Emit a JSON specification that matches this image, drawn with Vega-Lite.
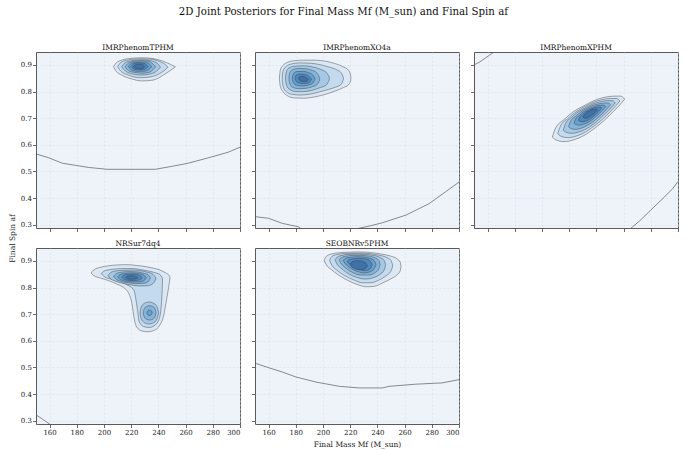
{
  "$schema": "https://vega.github.io/schema/vega-lite/v6.json",
  "padding": {"left": 7, "top": 6, "right": 5, "bottom": 1},
  "background": "white",
  "title": {"text": "2D Joint Posteriors for Final Mass Mf (M_sun) and Final Spin af", "fontSize": 10.2, "font": "DejaVu Serif", "fontWeight": "normal", "anchor": "middle", "offset": 26, "color": "#111"},
  "bounds": "flush",
  "columns": 3,
  "spacing": {"row": 20, "column": 15},
  "config": {
    "font": "DejaVu Serif",
    "view": {"fill": "#eef3fa", "stroke": "#5a5a5a", "strokeWidth": 1},
    "axis": {"labelFont": "DejaVu Serif", "labelFontSize": 7, "labelColor": "#222", "tickColor": "#444", "tickSize": 3.5, "tickWidth": 0.8, "domain": false, "grid": true, "gridColor": "#d3d9e3", "gridDash": [2, 2], "gridWidth": 0.5, "titleFont": "DejaVu Serif", "titleFontSize": 7.5, "titleFontWeight": "normal", "titleColor": "#222", "labelPadding": 1},
    "title": {"font": "DejaVu Serif", "fontWeight": "normal", "fontSize": 7.5, "color": "#111", "offset": 1}
  },
  "datasets": {
    "contours": [
      {"model":"IMRPhenomTPHM","ring":"T1","level":1,"mf":207,"af":0.893,"af_hi":0.893},
      {"model":"IMRPhenomTPHM","ring":"T1","level":1,"mf":209,"af":0.876,"af_hi":0.908},
      {"model":"IMRPhenomTPHM","ring":"T1","level":1,"mf":213,"af":0.862,"af_hi":0.918},
      {"model":"IMRPhenomTPHM","ring":"T1","level":1,"mf":220,"af":0.848,"af_hi":0.925},
      {"model":"IMRPhenomTPHM","ring":"T1","level":1,"mf":228,"af":0.840,"af_hi":0.927},
      {"model":"IMRPhenomTPHM","ring":"T1","level":1,"mf":236,"af":0.843,"af_hi":0.924},
      {"model":"IMRPhenomTPHM","ring":"T1","level":1,"mf":243,"af":0.860,"af_hi":0.915},
      {"model":"IMRPhenomTPHM","ring":"T1","level":1,"mf":249,"af":0.880,"af_hi":0.902},
      {"model":"IMRPhenomTPHM","ring":"T1","level":1,"mf":252.5,"af":0.893,"af_hi":0.893},
      {"model":"IMRPhenomTPHM","ring":"T2","level":2,"mf":210,"af":0.893,"af_hi":0.893},
      {"model":"IMRPhenomTPHM","ring":"T2","level":2,"mf":212.5,"af":0.876,"af_hi":0.910},
      {"model":"IMRPhenomTPHM","ring":"T2","level":2,"mf":218,"af":0.862,"af_hi":0.919},
      {"model":"IMRPhenomTPHM","ring":"T2","level":2,"mf":226,"af":0.852,"af_hi":0.923},
      {"model":"IMRPhenomTPHM","ring":"T2","level":2,"mf":234,"af":0.855,"af_hi":0.922},
      {"model":"IMRPhenomTPHM","ring":"T2","level":2,"mf":241,"af":0.868,"af_hi":0.913},
      {"model":"IMRPhenomTPHM","ring":"T2","level":2,"mf":245,"af":0.882,"af_hi":0.902},
      {"model":"IMRPhenomTPHM","ring":"T2","level":2,"mf":247,"af":0.892,"af_hi":0.892},
      {"model":"IMRPhenomTPHM","ring":"T3","level":3,"mf":213,"af":0.893,"af_hi":0.893},
      {"model":"IMRPhenomTPHM","ring":"T3","level":3,"mf":215.5,"af":0.878,"af_hi":0.908},
      {"model":"IMRPhenomTPHM","ring":"T3","level":3,"mf":220.5,"af":0.867,"af_hi":0.916},
      {"model":"IMRPhenomTPHM","ring":"T3","level":3,"mf":227,"af":0.862,"af_hi":0.919},
      {"model":"IMRPhenomTPHM","ring":"T3","level":3,"mf":233,"af":0.865,"af_hi":0.917},
      {"model":"IMRPhenomTPHM","ring":"T3","level":3,"mf":238.5,"af":0.876,"af_hi":0.909},
      {"model":"IMRPhenomTPHM","ring":"T3","level":3,"mf":241.5,"af":0.892,"af_hi":0.892},
      {"model":"IMRPhenomTPHM","ring":"T4","level":4,"mf":215.5,"af":0.893,"af_hi":0.893},
      {"model":"IMRPhenomTPHM","ring":"T4","level":4,"mf":218,"af":0.879,"af_hi":0.907},
      {"model":"IMRPhenomTPHM","ring":"T4","level":4,"mf":222.5,"af":0.872,"af_hi":0.914},
      {"model":"IMRPhenomTPHM","ring":"T4","level":4,"mf":228,"af":0.869,"af_hi":0.916},
      {"model":"IMRPhenomTPHM","ring":"T4","level":4,"mf":233,"af":0.872,"af_hi":0.913},
      {"model":"IMRPhenomTPHM","ring":"T4","level":4,"mf":236,"af":0.882,"af_hi":0.904},
      {"model":"IMRPhenomTPHM","ring":"T4","level":4,"mf":238,"af":0.893,"af_hi":0.893},
      {"model":"IMRPhenomTPHM","ring":"T5","level":5,"mf":218,"af":0.894,"af_hi":0.894},
      {"model":"IMRPhenomTPHM","ring":"T5","level":5,"mf":220,"af":0.882,"af_hi":0.906},
      {"model":"IMRPhenomTPHM","ring":"T5","level":5,"mf":224.5,"af":0.876,"af_hi":0.911},
      {"model":"IMRPhenomTPHM","ring":"T5","level":5,"mf":229,"af":0.876,"af_hi":0.911},
      {"model":"IMRPhenomTPHM","ring":"T5","level":5,"mf":233,"af":0.883,"af_hi":0.905},
      {"model":"IMRPhenomTPHM","ring":"T5","level":5,"mf":235,"af":0.894,"af_hi":0.894},
      {"model":"IMRPhenomTPHM","ring":"T6","level":6,"mf":220,"af":0.894,"af_hi":0.894},
      {"model":"IMRPhenomTPHM","ring":"T6","level":6,"mf":221.7,"af":0.885,"af_hi":0.904},
      {"model":"IMRPhenomTPHM","ring":"T6","level":6,"mf":225.5,"af":0.881,"af_hi":0.908},
      {"model":"IMRPhenomTPHM","ring":"T6","level":6,"mf":229.5,"af":0.883,"af_hi":0.906},
      {"model":"IMRPhenomTPHM","ring":"T6","level":6,"mf":232.5,"af":0.894,"af_hi":0.894},
      {"model":"IMRPhenomTPHM","ring":"T7","level":7,"mf":221.5,"af":0.894,"af_hi":0.894},
      {"model":"IMRPhenomTPHM","ring":"T7","level":7,"mf":223,"af":0.888,"af_hi":0.900},
      {"model":"IMRPhenomTPHM","ring":"T7","level":7,"mf":226,"af":0.885,"af_hi":0.903},
      {"model":"IMRPhenomTPHM","ring":"T7","level":7,"mf":228.5,"af":0.887,"af_hi":0.901},
      {"model":"IMRPhenomTPHM","ring":"T7","level":7,"mf":230,"af":0.894,"af_hi":0.894},

      {"model":"IMRPhenomXO4a","ring":"X1","level":1,"mf":168.0,"af":0.845,"af_hi":0.855},
      {"model":"IMRPhenomXO4a","ring":"X1","level":1,"mf":168.6,"af":0.820,"af_hi":0.880},
      {"model":"IMRPhenomXO4a","ring":"X1","level":1,"mf":170.5,"af":0.800,"af_hi":0.898},
      {"model":"IMRPhenomXO4a","ring":"X1","level":1,"mf":174,"af":0.784,"af_hi":0.910},
      {"model":"IMRPhenomXO4a","ring":"X1","level":1,"mf":179,"af":0.776,"af_hi":0.916},
      {"model":"IMRPhenomXO4a","ring":"X1","level":1,"mf":186,"af":0.775,"af_hi":0.918},
      {"model":"IMRPhenomXO4a","ring":"X1","level":1,"mf":194,"af":0.780,"af_hi":0.918},
      {"model":"IMRPhenomXO4a","ring":"X1","level":1,"mf":202,"af":0.790,"af_hi":0.914},
      {"model":"IMRPhenomXO4a","ring":"X1","level":1,"mf":209,"af":0.802,"af_hi":0.905},
      {"model":"IMRPhenomXO4a","ring":"X1","level":1,"mf":215,"af":0.815,"af_hi":0.893},
      {"model":"IMRPhenomXO4a","ring":"X1","level":1,"mf":218.8,"af":0.826,"af_hi":0.880},
      {"model":"IMRPhenomXO4a","ring":"X1","level":1,"mf":220.3,"af":0.840,"af_hi":0.862},
      {"model":"IMRPhenomXO4a","ring":"X1","level":1,"mf":220.5,"af":0.851,"af_hi":0.851},
      {"model":"IMRPhenomXO4a","ring":"X2","level":2,"mf":170.0,"af":0.840,"af_hi":0.858},
      {"model":"IMRPhenomXO4a","ring":"X2","level":2,"mf":170.8,"af":0.817,"af_hi":0.880},
      {"model":"IMRPhenomXO4a","ring":"X2","level":2,"mf":173,"af":0.800,"af_hi":0.895},
      {"model":"IMRPhenomXO4a","ring":"X2","level":2,"mf":177,"af":0.790,"af_hi":0.904},
      {"model":"IMRPhenomXO4a","ring":"X2","level":2,"mf":183,"af":0.787,"af_hi":0.908},
      {"model":"IMRPhenomXO4a","ring":"X2","level":2,"mf":190,"af":0.790,"af_hi":0.907},
      {"model":"IMRPhenomXO4a","ring":"X2","level":2,"mf":197,"af":0.798,"af_hi":0.902},
      {"model":"IMRPhenomXO4a","ring":"X2","level":2,"mf":204,"af":0.808,"af_hi":0.893},
      {"model":"IMRPhenomXO4a","ring":"X2","level":2,"mf":210,"af":0.818,"af_hi":0.882},
      {"model":"IMRPhenomXO4a","ring":"X2","level":2,"mf":213.5,"af":0.828,"af_hi":0.870},
      {"model":"IMRPhenomXO4a","ring":"X2","level":2,"mf":215,"af":0.846,"af_hi":0.852},
      {"model":"IMRPhenomXO4a","ring":"X3","level":3,"mf":172.5,"af":0.842,"af_hi":0.858},
      {"model":"IMRPhenomXO4a","ring":"X3","level":3,"mf":173.3,"af":0.822,"af_hi":0.878},
      {"model":"IMRPhenomXO4a","ring":"X3","level":3,"mf":175.5,"af":0.808,"af_hi":0.890},
      {"model":"IMRPhenomXO4a","ring":"X3","level":3,"mf":180,"af":0.800,"af_hi":0.896},
      {"model":"IMRPhenomXO4a","ring":"X3","level":3,"mf":186,"af":0.800,"af_hi":0.897},
      {"model":"IMRPhenomXO4a","ring":"X3","level":3,"mf":192,"af":0.805,"af_hi":0.893},
      {"model":"IMRPhenomXO4a","ring":"X3","level":3,"mf":198,"af":0.815,"af_hi":0.884},
      {"model":"IMRPhenomXO4a","ring":"X3","level":3,"mf":202.5,"af":0.825,"af_hi":0.872},
      {"model":"IMRPhenomXO4a","ring":"X3","level":3,"mf":204.6,"af":0.845,"af_hi":0.855},
      {"model":"IMRPhenomXO4a","ring":"X4","level":4,"mf":175,"af":0.842,"af_hi":0.858},
      {"model":"IMRPhenomXO4a","ring":"X4","level":4,"mf":175.8,"af":0.826,"af_hi":0.873},
      {"model":"IMRPhenomXO4a","ring":"X4","level":4,"mf":178,"af":0.815,"af_hi":0.883},
      {"model":"IMRPhenomXO4a","ring":"X4","level":4,"mf":182,"af":0.811,"af_hi":0.887},
      {"model":"IMRPhenomXO4a","ring":"X4","level":4,"mf":187,"af":0.812,"af_hi":0.886},
      {"model":"IMRPhenomXO4a","ring":"X4","level":4,"mf":192,"af":0.818,"af_hi":0.880},
      {"model":"IMRPhenomXO4a","ring":"X4","level":4,"mf":195.5,"af":0.826,"af_hi":0.870},
      {"model":"IMRPhenomXO4a","ring":"X4","level":4,"mf":197.5,"af":0.842,"af_hi":0.852},
      {"model":"IMRPhenomXO4a","ring":"X5","level":5,"mf":177.5,"af":0.845,"af_hi":0.855},
      {"model":"IMRPhenomXO4a","ring":"X5","level":5,"mf":178.3,"af":0.832,"af_hi":0.868},
      {"model":"IMRPhenomXO4a","ring":"X5","level":5,"mf":180.5,"af":0.824,"af_hi":0.875},
      {"model":"IMRPhenomXO4a","ring":"X5","level":5,"mf":185,"af":0.821,"af_hi":0.876},
      {"model":"IMRPhenomXO4a","ring":"X5","level":5,"mf":189.5,"af":0.825,"af_hi":0.871},
      {"model":"IMRPhenomXO4a","ring":"X5","level":5,"mf":192.5,"af":0.832,"af_hi":0.862},
      {"model":"IMRPhenomXO4a","ring":"X5","level":5,"mf":194,"af":0.845,"af_hi":0.850},
      {"model":"IMRPhenomXO4a","ring":"X6","level":6,"mf":179.5,"af":0.848,"af_hi":0.852},
      {"model":"IMRPhenomXO4a","ring":"X6","level":6,"mf":180.3,"af":0.838,"af_hi":0.862},
      {"model":"IMRPhenomXO4a","ring":"X6","level":6,"mf":182.5,"af":0.832,"af_hi":0.866},
      {"model":"IMRPhenomXO4a","ring":"X6","level":6,"mf":186,"af":0.830,"af_hi":0.865},
      {"model":"IMRPhenomXO4a","ring":"X6","level":6,"mf":189.5,"af":0.833,"af_hi":0.858},
      {"model":"IMRPhenomXO4a","ring":"X6","level":6,"mf":191.5,"af":0.845,"af_hi":0.848},
      {"model":"IMRPhenomXO4a","ring":"X7","level":7,"mf":182,"af":0.850,"af_hi":0.850},
      {"model":"IMRPhenomXO4a","ring":"X7","level":7,"mf":182.8,"af":0.843,"af_hi":0.856},
      {"model":"IMRPhenomXO4a","ring":"X7","level":7,"mf":185,"af":0.838,"af_hi":0.858},
      {"model":"IMRPhenomXO4a","ring":"X7","level":7,"mf":187.5,"af":0.838,"af_hi":0.853},
      {"model":"IMRPhenomXO4a","ring":"X7","level":7,"mf":189.5,"af":0.845,"af_hi":0.845},

      {"model":"IMRPhenomXPHM","ring":"P1","level":1,"mf":207.6,"af":0.629,"af_hi":0.629},
      {"model":"IMRPhenomXPHM","ring":"P1","level":1,"mf":210.0,"af":0.619,"af_hi":0.663},
      {"model":"IMRPhenomXPHM","ring":"P1","level":1,"mf":216.2,"af":0.612,"af_hi":0.695},
      {"model":"IMRPhenomXPHM","ring":"P1","level":1,"mf":223.5,"af":0.619,"af_hi":0.726},
      {"model":"IMRPhenomXPHM","ring":"P1","level":1,"mf":230.9,"af":0.635,"af_hi":0.747},
      {"model":"IMRPhenomXPHM","ring":"P1","level":1,"mf":238.2,"af":0.660,"af_hi":0.766},
      {"model":"IMRPhenomXPHM","ring":"P1","level":1,"mf":245.6,"af":0.691,"af_hi":0.778},
      {"model":"IMRPhenomXPHM","ring":"P1","level":1,"mf":253.0,"af":0.728,"af_hi":0.783},
      {"model":"IMRPhenomXPHM","ring":"P1","level":1,"mf":257.8,"af":0.753,"af_hi":0.783},
      {"model":"IMRPhenomXPHM","ring":"P1","level":1,"mf":260.8,"af":0.772,"af_hi":0.772},
      {"model":"IMRPhenomXPHM","ring":"P2","level":2,"mf":211.6,"af":0.642,"af_hi":0.642},
      {"model":"IMRPhenomXPHM","ring":"P2","level":2,"mf":213.6,"af":0.633,"af_hi":0.671},
      {"model":"IMRPhenomXPHM","ring":"P2","level":2,"mf":219.0,"af":0.627,"af_hi":0.699},
      {"model":"IMRPhenomXPHM","ring":"P2","level":2,"mf":225.3,"af":0.633,"af_hi":0.725},
      {"model":"IMRPhenomXPHM","ring":"P2","level":2,"mf":231.6,"af":0.647,"af_hi":0.744},
      {"model":"IMRPhenomXPHM","ring":"P2","level":2,"mf":237.9,"af":0.669,"af_hi":0.760},
      {"model":"IMRPhenomXPHM","ring":"P2","level":2,"mf":244.3,"af":0.695,"af_hi":0.770},
      {"model":"IMRPhenomXPHM","ring":"P2","level":2,"mf":250.6,"af":0.727,"af_hi":0.774},
      {"model":"IMRPhenomXPHM","ring":"P2","level":2,"mf":254.7,"af":0.749,"af_hi":0.774},
      {"model":"IMRPhenomXPHM","ring":"P2","level":2,"mf":257.3,"af":0.765,"af_hi":0.765},
      {"model":"IMRPhenomXPHM","ring":"P3","level":3,"mf":215.6,"af":0.655,"af_hi":0.655},
      {"model":"IMRPhenomXPHM","ring":"P3","level":3,"mf":217.3,"af":0.648,"af_hi":0.680},
      {"model":"IMRPhenomXPHM","ring":"P3","level":3,"mf":221.7,"af":0.643,"af_hi":0.703},
      {"model":"IMRPhenomXPHM","ring":"P3","level":3,"mf":227.0,"af":0.648,"af_hi":0.725},
      {"model":"IMRPhenomXPHM","ring":"P3","level":3,"mf":232.3,"af":0.659,"af_hi":0.740},
      {"model":"IMRPhenomXPHM","ring":"P3","level":3,"mf":237.6,"af":0.677,"af_hi":0.754},
      {"model":"IMRPhenomXPHM","ring":"P3","level":3,"mf":242.9,"af":0.700,"af_hi":0.762},
      {"model":"IMRPhenomXPHM","ring":"P3","level":3,"mf":248.2,"af":0.726,"af_hi":0.766},
      {"model":"IMRPhenomXPHM","ring":"P3","level":3,"mf":251.7,"af":0.744,"af_hi":0.766},
      {"model":"IMRPhenomXPHM","ring":"P3","level":3,"mf":253.9,"af":0.758,"af_hi":0.758},
      {"model":"IMRPhenomXPHM","ring":"P4","level":4,"mf":219.5,"af":0.668,"af_hi":0.668},
      {"model":"IMRPhenomXPHM","ring":"P4","level":4,"mf":220.9,"af":0.662,"af_hi":0.688},
      {"model":"IMRPhenomXPHM","ring":"P4","level":4,"mf":224.5,"af":0.658,"af_hi":0.706},
      {"model":"IMRPhenomXPHM","ring":"P4","level":4,"mf":228.75,"af":0.662,"af_hi":0.724},
      {"model":"IMRPhenomXPHM","ring":"P4","level":4,"mf":233.0,"af":0.672,"af_hi":0.737},
      {"model":"IMRPhenomXPHM","ring":"P4","level":4,"mf":237.3,"af":0.686,"af_hi":0.748},
      {"model":"IMRPhenomXPHM","ring":"P4","level":4,"mf":241.6,"af":0.704,"af_hi":0.754},
      {"model":"IMRPhenomXPHM","ring":"P4","level":4,"mf":245.9,"af":0.725,"af_hi":0.757},
      {"model":"IMRPhenomXPHM","ring":"P4","level":4,"mf":248.6,"af":0.740,"af_hi":0.757},
      {"model":"IMRPhenomXPHM","ring":"P4","level":4,"mf":250.4,"af":0.751,"af_hi":0.751},
      {"model":"IMRPhenomXPHM","ring":"P5","level":5,"mf":223.5,"af":0.681,"af_hi":0.681},
      {"model":"IMRPhenomXPHM","ring":"P5","level":5,"mf":224.6,"af":0.677,"af_hi":0.696},
      {"model":"IMRPhenomXPHM","ring":"P5","level":5,"mf":227.3,"af":0.674,"af_hi":0.710},
      {"model":"IMRPhenomXPHM","ring":"P5","level":5,"mf":230.5,"af":0.677,"af_hi":0.724},
      {"model":"IMRPhenomXPHM","ring":"P5","level":5,"mf":233.8,"af":0.684,"af_hi":0.733},
      {"model":"IMRPhenomXPHM","ring":"P5","level":5,"mf":237.0,"af":0.695,"af_hi":0.741},
      {"model":"IMRPhenomXPHM","ring":"P5","level":5,"mf":240.2,"af":0.708,"af_hi":0.747},
      {"model":"IMRPhenomXPHM","ring":"P5","level":5,"mf":243.5,"af":0.725,"af_hi":0.749},
      {"model":"IMRPhenomXPHM","ring":"P5","level":5,"mf":245.6,"af":0.736,"af_hi":0.749},
      {"model":"IMRPhenomXPHM","ring":"P5","level":5,"mf":246.9,"af":0.744,"af_hi":0.744},
      {"model":"IMRPhenomXPHM","ring":"P6","level":6,"mf":226.9,"af":0.692,"af_hi":0.692},
      {"model":"IMRPhenomXPHM","ring":"P6","level":6,"mf":227.7,"af":0.689,"af_hi":0.703},
      {"model":"IMRPhenomXPHM","ring":"P6","level":6,"mf":229.7,"af":0.687,"af_hi":0.713},
      {"model":"IMRPhenomXPHM","ring":"P6","level":6,"mf":232.0,"af":0.689,"af_hi":0.723},
      {"model":"IMRPhenomXPHM","ring":"P6","level":6,"mf":234.4,"af":0.694,"af_hi":0.730},
      {"model":"IMRPhenomXPHM","ring":"P6","level":6,"mf":236.7,"af":0.702,"af_hi":0.736},
      {"model":"IMRPhenomXPHM","ring":"P6","level":6,"mf":239.1,"af":0.712,"af_hi":0.740},
      {"model":"IMRPhenomXPHM","ring":"P6","level":6,"mf":241.4,"af":0.724,"af_hi":0.742},
      {"model":"IMRPhenomXPHM","ring":"P6","level":6,"mf":243.0,"af":0.732,"af_hi":0.742},
      {"model":"IMRPhenomXPHM","ring":"P6","level":6,"mf":243.9,"af":0.738,"af_hi":0.738},
      {"model":"IMRPhenomXPHM","ring":"P7","level":7,"mf":230.3,"af":0.703,"af_hi":0.703},
      {"model":"IMRPhenomXPHM","ring":"P7","level":7,"mf":230.8,"af":0.701,"af_hi":0.710},
      {"model":"IMRPhenomXPHM","ring":"P7","level":7,"mf":232.0,"af":0.700,"af_hi":0.717},
      {"model":"IMRPhenomXPHM","ring":"P7","level":7,"mf":233.5,"af":0.701,"af_hi":0.723},
      {"model":"IMRPhenomXPHM","ring":"P7","level":7,"mf":235.0,"af":0.705,"af_hi":0.727},
      {"model":"IMRPhenomXPHM","ring":"P7","level":7,"mf":236.4,"af":0.710,"af_hi":0.731},
      {"model":"IMRPhenomXPHM","ring":"P7","level":7,"mf":237.9,"af":0.716,"af_hi":0.733},
      {"model":"IMRPhenomXPHM","ring":"P7","level":7,"mf":239.4,"af":0.723,"af_hi":0.734},
      {"model":"IMRPhenomXPHM","ring":"P7","level":7,"mf":240.4,"af":0.728,"af_hi":0.734},
      {"model":"IMRPhenomXPHM","ring":"P7","level":7,"mf":241.0,"af":0.732,"af_hi":0.732},

      {"model":"NRSur7dq4","ring":"N1","level":1,"mf":190.5,"af":0.855,"af_hi":0.855},
      {"model":"NRSur7dq4","ring":"N1","level":1,"mf":192.4,"af":0.845,"af_hi":0.866},
      {"model":"NRSur7dq4","ring":"N1","level":1,"mf":197.3,"af":0.836,"af_hi":0.876},
      {"model":"NRSur7dq4","ring":"N1","level":1,"mf":203.4,"af":0.826,"af_hi":0.882},
      {"model":"NRSur7dq4","ring":"N1","level":1,"mf":209.5,"af":0.813,"af_hi":0.885},
      {"model":"NRSur7dq4","ring":"N1","level":1,"mf":215.6,"af":0.795,"af_hi":0.886},
      {"model":"NRSur7dq4","ring":"N1","level":1,"mf":218.0,"af":0.780,"af_hi":0.886},
      {"model":"NRSur7dq4","ring":"N1","level":1,"mf":220.5,"af":0.741,"af_hi":0.885},
      {"model":"NRSur7dq4","ring":"N1","level":1,"mf":222.4,"af":0.678,"af_hi":0.884},
      {"model":"NRSur7dq4","ring":"N1","level":1,"mf":224.1,"af":0.651,"af_hi":0.883},
      {"model":"NRSur7dq4","ring":"N1","level":1,"mf":227.8,"af":0.637,"af_hi":0.881},
      {"model":"NRSur7dq4","ring":"N1","level":1,"mf":231.5,"af":0.634,"af_hi":0.878},
      {"model":"NRSur7dq4","ring":"N1","level":1,"mf":236.3,"af":0.638,"af_hi":0.873},
      {"model":"NRSur7dq4","ring":"N1","level":1,"mf":241.2,"af":0.660,"af_hi":0.866},
      {"model":"NRSur7dq4","ring":"N1","level":1,"mf":243.7,"af":0.691,"af_hi":0.860},
      {"model":"NRSur7dq4","ring":"N1","level":1,"mf":245.5,"af":0.740,"af_hi":0.855},
      {"model":"NRSur7dq4","ring":"N1","level":1,"mf":247.5,"af":0.800,"af_hi":0.848},
      {"model":"NRSur7dq4","ring":"N1","level":1,"mf":248.5,"af":0.835,"af_hi":0.840},
      {"model":"NRSur7dq4","ring":"N2","level":2,"mf":198.0,"af":0.852,"af_hi":0.852},
      {"model":"NRSur7dq4","ring":"N2","level":2,"mf":200.0,"af":0.842,"af_hi":0.862},
      {"model":"NRSur7dq4","ring":"N2","level":2,"mf":205.0,"af":0.832,"af_hi":0.868},
      {"model":"NRSur7dq4","ring":"N2","level":2,"mf":211.0,"af":0.822,"af_hi":0.871},
      {"model":"NRSur7dq4","ring":"N2","level":2,"mf":217.0,"af":0.810,"af_hi":0.872},
      {"model":"NRSur7dq4","ring":"N2","level":2,"mf":222.0,"af":0.790,"af_hi":0.871},
      {"model":"NRSur7dq4","ring":"N2","level":2,"mf":224.5,"af":0.720,"af_hi":0.870},
      {"model":"NRSur7dq4","ring":"N2","level":2,"mf":226.0,"af":0.670,"af_hi":0.868},
      {"model":"NRSur7dq4","ring":"N2","level":2,"mf":229.0,"af":0.654,"af_hi":0.866},
      {"model":"NRSur7dq4","ring":"N2","level":2,"mf":233.0,"af":0.650,"af_hi":0.862},
      {"model":"NRSur7dq4","ring":"N2","level":2,"mf":237.0,"af":0.657,"af_hi":0.857},
      {"model":"NRSur7dq4","ring":"N2","level":2,"mf":240.0,"af":0.675,"af_hi":0.852},
      {"model":"NRSur7dq4","ring":"N2","level":2,"mf":241.7,"af":0.710,"af_hi":0.846},
      {"model":"NRSur7dq4","ring":"N2","level":2,"mf":242.5,"af":0.760,"af_hi":0.840},
      {"model":"NRSur7dq4","ring":"N2","level":2,"mf":243.0,"af":0.820,"af_hi":0.832},
      {"model":"NRSur7dq4","ring":"N3a","level":3,"mf":203.0,"af":0.845,"af_hi":0.845},
      {"model":"NRSur7dq4","ring":"N3a","level":3,"mf":204.5,"af":0.835,"af_hi":0.855},
      {"model":"NRSur7dq4","ring":"N3a","level":3,"mf":208.0,"af":0.825,"af_hi":0.862},
      {"model":"NRSur7dq4","ring":"N3a","level":3,"mf":214.0,"af":0.816,"af_hi":0.865},
      {"model":"NRSur7dq4","ring":"N3a","level":3,"mf":220.0,"af":0.810,"af_hi":0.866},
      {"model":"NRSur7dq4","ring":"N3a","level":3,"mf":226.0,"af":0.806,"af_hi":0.864},
      {"model":"NRSur7dq4","ring":"N3a","level":3,"mf":232.0,"af":0.807,"af_hi":0.858},
      {"model":"NRSur7dq4","ring":"N3a","level":3,"mf":236.0,"af":0.815,"af_hi":0.850},
      {"model":"NRSur7dq4","ring":"N3a","level":3,"mf":238.0,"af":0.830,"af_hi":0.838},
      {"model":"NRSur7dq4","ring":"N3b","level":3,"mf":226.5,"af":0.705,"af_hi":0.705},
      {"model":"NRSur7dq4","ring":"N3b","level":3,"mf":227.3,"af":0.684,"af_hi":0.726},
      {"model":"NRSur7dq4","ring":"N3b","level":3,"mf":229.5,"af":0.669,"af_hi":0.740},
      {"model":"NRSur7dq4","ring":"N3b","level":3,"mf":233.0,"af":0.663,"af_hi":0.746},
      {"model":"NRSur7dq4","ring":"N3b","level":3,"mf":236.5,"af":0.668,"af_hi":0.741},
      {"model":"NRSur7dq4","ring":"N3b","level":3,"mf":239.0,"af":0.683,"af_hi":0.728},
      {"model":"NRSur7dq4","ring":"N3b","level":3,"mf":240.2,"af":0.705,"af_hi":0.705},
      {"model":"NRSur7dq4","ring":"N4a","level":4,"mf":207.0,"af":0.842,"af_hi":0.842},
      {"model":"NRSur7dq4","ring":"N4a","level":4,"mf":208.5,"af":0.833,"af_hi":0.851},
      {"model":"NRSur7dq4","ring":"N4a","level":4,"mf":212.0,"af":0.824,"af_hi":0.857},
      {"model":"NRSur7dq4","ring":"N4a","level":4,"mf":218.0,"af":0.818,"af_hi":0.860},
      {"model":"NRSur7dq4","ring":"N4a","level":4,"mf":224.0,"af":0.815,"af_hi":0.859},
      {"model":"NRSur7dq4","ring":"N4a","level":4,"mf":229.0,"af":0.816,"af_hi":0.854},
      {"model":"NRSur7dq4","ring":"N4a","level":4,"mf":232.5,"af":0.822,"af_hi":0.848},
      {"model":"NRSur7dq4","ring":"N4a","level":4,"mf":234.0,"af":0.835,"af_hi":0.838},
      {"model":"NRSur7dq4","ring":"N4b","level":4,"mf":228.8,"af":0.705,"af_hi":0.705},
      {"model":"NRSur7dq4","ring":"N4b","level":4,"mf":229.5,"af":0.690,"af_hi":0.720},
      {"model":"NRSur7dq4","ring":"N4b","level":4,"mf":231.2,"af":0.681,"af_hi":0.729},
      {"model":"NRSur7dq4","ring":"N4b","level":4,"mf":233.5,"af":0.678,"af_hi":0.732},
      {"model":"NRSur7dq4","ring":"N4b","level":4,"mf":235.8,"af":0.681,"af_hi":0.729},
      {"model":"NRSur7dq4","ring":"N4b","level":4,"mf":237.5,"af":0.690,"af_hi":0.720},
      {"model":"NRSur7dq4","ring":"N4b","level":4,"mf":238.2,"af":0.705,"af_hi":0.705},
      {"model":"NRSur7dq4","ring":"N5a","level":5,"mf":210.0,"af":0.840,"af_hi":0.840},
      {"model":"NRSur7dq4","ring":"N5a","level":5,"mf":211.5,"af":0.832,"af_hi":0.848},
      {"model":"NRSur7dq4","ring":"N5a","level":5,"mf":215.0,"af":0.825,"af_hi":0.853},
      {"model":"NRSur7dq4","ring":"N5a","level":5,"mf":220.0,"af":0.821,"af_hi":0.855},
      {"model":"NRSur7dq4","ring":"N5a","level":5,"mf":225.0,"af":0.821,"af_hi":0.853},
      {"model":"NRSur7dq4","ring":"N5a","level":5,"mf":229.0,"af":0.825,"af_hi":0.848},
      {"model":"NRSur7dq4","ring":"N5a","level":5,"mf":231.0,"af":0.835,"af_hi":0.838},
      {"model":"NRSur7dq4","ring":"N5b","level":5,"mf":231.5,"af":0.705,"af_hi":0.705},
      {"model":"NRSur7dq4","ring":"N5b","level":5,"mf":232.2,"af":0.698,"af_hi":0.713},
      {"model":"NRSur7dq4","ring":"N5b","level":5,"mf":233.5,"af":0.695,"af_hi":0.716},
      {"model":"NRSur7dq4","ring":"N5b","level":5,"mf":234.8,"af":0.698,"af_hi":0.713},
      {"model":"NRSur7dq4","ring":"N5b","level":5,"mf":235.5,"af":0.705,"af_hi":0.705},
      {"model":"NRSur7dq4","ring":"N6","level":6,"mf":213.0,"af":0.839,"af_hi":0.839},
      {"model":"NRSur7dq4","ring":"N6","level":6,"mf":214.5,"af":0.832,"af_hi":0.846},
      {"model":"NRSur7dq4","ring":"N6","level":6,"mf":218.0,"af":0.827,"af_hi":0.850},
      {"model":"NRSur7dq4","ring":"N6","level":6,"mf":222.0,"af":0.826,"af_hi":0.850},
      {"model":"NRSur7dq4","ring":"N6","level":6,"mf":226.0,"af":0.829,"af_hi":0.846},
      {"model":"NRSur7dq4","ring":"N6","level":6,"mf":228.0,"af":0.836,"af_hi":0.838},
      {"model":"NRSur7dq4","ring":"N7","level":7,"mf":216.0,"af":0.838,"af_hi":0.838},
      {"model":"NRSur7dq4","ring":"N7","level":7,"mf":217.2,"af":0.833,"af_hi":0.843},
      {"model":"NRSur7dq4","ring":"N7","level":7,"mf":220.0,"af":0.831,"af_hi":0.845},
      {"model":"NRSur7dq4","ring":"N7","level":7,"mf":223.0,"af":0.832,"af_hi":0.843},
      {"model":"NRSur7dq4","ring":"N7","level":7,"mf":225.0,"af":0.837,"af_hi":0.837},

      {"model":"SEOBNRv5PHM","ring":"S1","level":1,"mf":201.0,"af":0.900,"af_hi":0.905},
      {"model":"SEOBNRv5PHM","ring":"S1","level":1,"mf":202.5,"af":0.885,"af_hi":0.918},
      {"model":"SEOBNRv5PHM","ring":"S1","level":1,"mf":206.0,"af":0.868,"af_hi":0.926},
      {"model":"SEOBNRv5PHM","ring":"S1","level":1,"mf":212.0,"af":0.845,"af_hi":0.931},
      {"model":"SEOBNRv5PHM","ring":"S1","level":1,"mf":219.0,"af":0.825,"af_hi":0.933},
      {"model":"SEOBNRv5PHM","ring":"S1","level":1,"mf":226.0,"af":0.810,"af_hi":0.934},
      {"model":"SEOBNRv5PHM","ring":"S1","level":1,"mf":232.0,"af":0.803,"af_hi":0.933},
      {"model":"SEOBNRv5PHM","ring":"S1","level":1,"mf":238.0,"af":0.805,"af_hi":0.930},
      {"model":"SEOBNRv5PHM","ring":"S1","level":1,"mf":244.0,"af":0.818,"af_hi":0.925},
      {"model":"SEOBNRv5PHM","ring":"S1","level":1,"mf":250.0,"af":0.833,"af_hi":0.918},
      {"model":"SEOBNRv5PHM","ring":"S1","level":1,"mf":254.5,"af":0.848,"af_hi":0.908},
      {"model":"SEOBNRv5PHM","ring":"S1","level":1,"mf":256.8,"af":0.863,"af_hi":0.895},
      {"model":"SEOBNRv5PHM","ring":"S1","level":1,"mf":257.3,"af":0.878,"af_hi":0.880},
      {"model":"SEOBNRv5PHM","ring":"S2","level":2,"mf":205.0,"af":0.900,"af_hi":0.905},
      {"model":"SEOBNRv5PHM","ring":"S2","level":2,"mf":206.5,"af":0.884,"af_hi":0.917},
      {"model":"SEOBNRv5PHM","ring":"S2","level":2,"mf":210.0,"af":0.866,"af_hi":0.924},
      {"model":"SEOBNRv5PHM","ring":"S2","level":2,"mf":216.0,"af":0.845,"af_hi":0.928},
      {"model":"SEOBNRv5PHM","ring":"S2","level":2,"mf":223.0,"af":0.828,"af_hi":0.929},
      {"model":"SEOBNRv5PHM","ring":"S2","level":2,"mf":229.0,"af":0.818,"af_hi":0.929},
      {"model":"SEOBNRv5PHM","ring":"S2","level":2,"mf":235.0,"af":0.818,"af_hi":0.927},
      {"model":"SEOBNRv5PHM","ring":"S2","level":2,"mf":241.0,"af":0.828,"af_hi":0.922},
      {"model":"SEOBNRv5PHM","ring":"S2","level":2,"mf":246.5,"af":0.845,"af_hi":0.914},
      {"model":"SEOBNRv5PHM","ring":"S2","level":2,"mf":250.0,"af":0.862,"af_hi":0.902},
      {"model":"SEOBNRv5PHM","ring":"S2","level":2,"mf":251.2,"af":0.880,"af_hi":0.884},
      {"model":"SEOBNRv5PHM","ring":"S3","level":3,"mf":209.0,"af":0.902,"af_hi":0.905},
      {"model":"SEOBNRv5PHM","ring":"S3","level":3,"mf":210.5,"af":0.887,"af_hi":0.915},
      {"model":"SEOBNRv5PHM","ring":"S3","level":3,"mf":214.0,"af":0.870,"af_hi":0.921},
      {"model":"SEOBNRv5PHM","ring":"S3","level":3,"mf":219.0,"af":0.851,"af_hi":0.925},
      {"model":"SEOBNRv5PHM","ring":"S3","level":3,"mf":225.0,"af":0.838,"af_hi":0.926},
      {"model":"SEOBNRv5PHM","ring":"S3","level":3,"mf":231.0,"af":0.832,"af_hi":0.925},
      {"model":"SEOBNRv5PHM","ring":"S3","level":3,"mf":237.0,"af":0.837,"af_hi":0.921},
      {"model":"SEOBNRv5PHM","ring":"S3","level":3,"mf":242.0,"af":0.850,"af_hi":0.913},
      {"model":"SEOBNRv5PHM","ring":"S3","level":3,"mf":245.0,"af":0.866,"af_hi":0.902},
      {"model":"SEOBNRv5PHM","ring":"S3","level":3,"mf":246.0,"af":0.883,"af_hi":0.886},
      {"model":"SEOBNRv5PHM","ring":"S4","level":4,"mf":212.0,"af":0.902,"af_hi":0.905},
      {"model":"SEOBNRv5PHM","ring":"S4","level":4,"mf":213.5,"af":0.889,"af_hi":0.913},
      {"model":"SEOBNRv5PHM","ring":"S4","level":4,"mf":217.0,"af":0.872,"af_hi":0.918},
      {"model":"SEOBNRv5PHM","ring":"S4","level":4,"mf":222.0,"af":0.856,"af_hi":0.921},
      {"model":"SEOBNRv5PHM","ring":"S4","level":4,"mf":228.0,"af":0.847,"af_hi":0.921},
      {"model":"SEOBNRv5PHM","ring":"S4","level":4,"mf":234.0,"af":0.847,"af_hi":0.918},
      {"model":"SEOBNRv5PHM","ring":"S4","level":4,"mf":238.5,"af":0.857,"af_hi":0.911},
      {"model":"SEOBNRv5PHM","ring":"S4","level":4,"mf":241.0,"af":0.870,"af_hi":0.902},
      {"model":"SEOBNRv5PHM","ring":"S4","level":4,"mf":242.0,"af":0.886,"af_hi":0.888},
      {"model":"SEOBNRv5PHM","ring":"S5","level":5,"mf":215.0,"af":0.900,"af_hi":0.903},
      {"model":"SEOBNRv5PHM","ring":"S5","level":5,"mf":216.5,"af":0.889,"af_hi":0.910},
      {"model":"SEOBNRv5PHM","ring":"S5","level":5,"mf":220.0,"af":0.874,"af_hi":0.914},
      {"model":"SEOBNRv5PHM","ring":"S5","level":5,"mf":225.0,"af":0.861,"af_hi":0.916},
      {"model":"SEOBNRv5PHM","ring":"S5","level":5,"mf":230.0,"af":0.855,"af_hi":0.915},
      {"model":"SEOBNRv5PHM","ring":"S5","level":5,"mf":234.5,"af":0.859,"af_hi":0.910},
      {"model":"SEOBNRv5PHM","ring":"S5","level":5,"mf":237.5,"af":0.870,"af_hi":0.902},
      {"model":"SEOBNRv5PHM","ring":"S5","level":5,"mf":239.0,"af":0.885,"af_hi":0.888},
      {"model":"SEOBNRv5PHM","ring":"S6","level":6,"mf":218.0,"af":0.898,"af_hi":0.900},
      {"model":"SEOBNRv5PHM","ring":"S6","level":6,"mf":219.5,"af":0.888,"af_hi":0.906},
      {"model":"SEOBNRv5PHM","ring":"S6","level":6,"mf":223.0,"af":0.876,"af_hi":0.909},
      {"model":"SEOBNRv5PHM","ring":"S6","level":6,"mf":227.0,"af":0.867,"af_hi":0.910},
      {"model":"SEOBNRv5PHM","ring":"S6","level":6,"mf":231.0,"af":0.864,"af_hi":0.908},
      {"model":"SEOBNRv5PHM","ring":"S6","level":6,"mf":234.5,"af":0.870,"af_hi":0.901},
      {"model":"SEOBNRv5PHM","ring":"S6","level":6,"mf":236.0,"af":0.884,"af_hi":0.887},
      {"model":"SEOBNRv5PHM","ring":"S7","level":7,"mf":220.0,"af":0.886,"af_hi":0.888},
      {"model":"SEOBNRv5PHM","ring":"S7","level":7,"mf":221.5,"af":0.876,"af_hi":0.897},
      {"model":"SEOBNRv5PHM","ring":"S7","level":7,"mf":224.5,"af":0.869,"af_hi":0.901},
      {"model":"SEOBNRv5PHM","ring":"S7","level":7,"mf":228.0,"af":0.867,"af_hi":0.900},
      {"model":"SEOBNRv5PHM","ring":"S7","level":7,"mf":231.0,"af":0.871,"af_hi":0.894},
      {"model":"SEOBNRv5PHM","ring":"S7","level":7,"mf":232.5,"af":0.880,"af_hi":0.884}
    ],
    "lines": [
      {"model":"IMRPhenomTPHM","seg":"T","mf":150,"af":0.566},
      {"model":"IMRPhenomTPHM","seg":"T","mf":159.5,"af":0.551},
      {"model":"IMRPhenomTPHM","seg":"T","mf":169.3,"af":0.531},
      {"model":"IMRPhenomTPHM","seg":"T","mf":179,"af":0.523},
      {"model":"IMRPhenomTPHM","seg":"T","mf":188.8,"af":0.515},
      {"model":"IMRPhenomTPHM","seg":"T","mf":202.2,"af":0.508},
      {"model":"IMRPhenomTPHM","seg":"T","mf":237.6,"af":0.508},
      {"model":"IMRPhenomTPHM","seg":"T","mf":249.8,"af":0.519},
      {"model":"IMRPhenomTPHM","seg":"T","mf":262,"af":0.531},
      {"model":"IMRPhenomTPHM","seg":"T","mf":276.6,"af":0.551},
      {"model":"IMRPhenomTPHM","seg":"T","mf":291.2,"af":0.572},
      {"model":"IMRPhenomTPHM","seg":"T","mf":300,"af":0.591},
      {"model":"IMRPhenomXO4a","seg":"Xa","mf":150,"af":0.330},
      {"model":"IMRPhenomXO4a","seg":"Xa","mf":160,"af":0.324},
      {"model":"IMRPhenomXO4a","seg":"Xa","mf":170,"af":0.305},
      {"model":"IMRPhenomXO4a","seg":"Xa","mf":182,"af":0.292},
      {"model":"IMRPhenomXO4a","seg":"Xa","mf":184,"af":0.284},
      {"model":"IMRPhenomXO4a","seg":"Xb","mf":226,"af":0.286},
      {"model":"IMRPhenomXO4a","seg":"Xb","mf":235,"af":0.296},
      {"model":"IMRPhenomXO4a","seg":"Xb","mf":243.6,"af":0.307},
      {"model":"IMRPhenomXO4a","seg":"Xb","mf":261,"af":0.336},
      {"model":"IMRPhenomXO4a","seg":"Xb","mf":278,"af":0.379},
      {"model":"IMRPhenomXO4a","seg":"Xb","mf":290,"af":0.423},
      {"model":"IMRPhenomXO4a","seg":"Xb","mf":300,"af":0.460},
      {"model":"IMRPhenomXPHM","seg":"Pa","mf":150,"af":0.900},
      {"model":"IMRPhenomXPHM","seg":"Pa","mf":154.5,"af":0.912},
      {"model":"IMRPhenomXPHM","seg":"Pa","mf":165,"af":0.950},
      {"model":"IMRPhenomXPHM","seg":"Pb","mf":265,"af":0.285},
      {"model":"IMRPhenomXPHM","seg":"Pb","mf":272,"af":0.315},
      {"model":"IMRPhenomXPHM","seg":"Pb","mf":280,"af":0.355},
      {"model":"IMRPhenomXPHM","seg":"Pb","mf":290,"af":0.404},
      {"model":"IMRPhenomXPHM","seg":"Pb","mf":296,"af":0.435},
      {"model":"IMRPhenomXPHM","seg":"Pb","mf":300,"af":0.462},
      {"model":"NRSur7dq4","seg":"N","mf":150,"af":0.322},
      {"model":"NRSur7dq4","seg":"N","mf":155,"af":0.305},
      {"model":"NRSur7dq4","seg":"N","mf":159.5,"af":0.289},
      {"model":"NRSur7dq4","seg":"N","mf":161,"af":0.284},
      {"model":"SEOBNRv5PHM","seg":"S","mf":150,"af":0.516},
      {"model":"SEOBNRv5PHM","seg":"S","mf":160.7,"af":0.498},
      {"model":"SEOBNRv5PHM","seg":"S","mf":170.5,"af":0.482},
      {"model":"SEOBNRv5PHM","seg":"S","mf":180.2,"af":0.464},
      {"model":"SEOBNRv5PHM","seg":"S","mf":194.9,"af":0.445},
      {"model":"SEOBNRv5PHM","seg":"S","mf":212,"af":0.429},
      {"model":"SEOBNRv5PHM","seg":"S","mf":226.6,"af":0.423},
      {"model":"SEOBNRv5PHM","seg":"S","mf":243.7,"af":0.423},
      {"model":"SEOBNRv5PHM","seg":"S","mf":248.5,"af":0.429},
      {"model":"SEOBNRv5PHM","seg":"S","mf":268,"af":0.437},
      {"model":"SEOBNRv5PHM","seg":"S","mf":287.6,"af":0.442},
      {"model":"SEOBNRv5PHM","seg":"S","mf":300,"af":0.454}
    ]
  },
  "concat": [
    {
      "width": 204, "height": 176, "title": "IMRPhenomTPHM",
      "encoding": {
        "x": {"field": "mf", "type": "quantitative", "scale": {"domain": [150, 300], "nice": false, "zero": false}, "axis": {"values": [160, 180, 200, 220, 240, 260, 280, 300], "labels": false, "title": null}},
        "y": {"field": "af", "type": "quantitative", "stack": null, "scale": {"domain": [0.2875, 0.9487], "nice": false, "zero": false}, "axis": {"values": [0.3, 0.4, 0.5, 0.6, 0.7, 0.8, 0.9], "format": ".1f", "title": "Final Spin af", "titleY": 186, "titlePadding": 4}}
      },
      "layer": [
        {"data": {"name": "contours"}, "transform": [{"filter": {"field": "model", "equal": "IMRPhenomTPHM"}}],
         "mark": {"type": "area", "orient": "vertical", "interpolate": "monotone", "clip": true, "stroke": "#3a3a3a", "strokeWidth": 0.6, "strokeOpacity": 0.75},
         "encoding": {"y2": {"field": "af_hi"}, "detail": {"field": "ring"}, "color": {"field": "level", "type": "ordinal", "scale": {"domain": [1, 2, 3, 4, 5, 6, 7], "range": ["#dbe8f4", "#c4daee", "#a6c8e4", "#85b4da", "#679fcd", "#4f88bf", "#3f70a8"]}, "legend": null}}},
        {"data": {"name": "lines"}, "transform": [{"filter": {"field": "model", "equal": "IMRPhenomTPHM"}}],
         "mark": {"type": "line", "clip": true, "color": "#5a5a5a", "strokeWidth": 0.7},
         "encoding": {"detail": {"field": "seg"}}}
      ]
    },
    {
      "width": 204, "height": 176, "title": "IMRPhenomXO4a",
      "encoding": {
        "x": {"field": "mf", "type": "quantitative", "scale": {"domain": [150, 300], "nice": false, "zero": false}, "axis": {"values": [160, 180, 200, 220, 240, 260, 280, 300], "labels": false, "title": null}},
        "y": {"field": "af", "type": "quantitative", "stack": null, "scale": {"domain": [0.2875, 0.9487], "nice": false, "zero": false}, "axis": {"values": [0.3, 0.4, 0.5, 0.6, 0.7, 0.8, 0.9], "labels": false, "title": null}}
      },
      "layer": [
        {"data": {"name": "contours"}, "transform": [{"filter": {"field": "model", "equal": "IMRPhenomXO4a"}}],
         "mark": {"type": "area", "orient": "vertical", "interpolate": "monotone", "clip": true, "stroke": "#3a3a3a", "strokeWidth": 0.6, "strokeOpacity": 0.75},
         "encoding": {"y2": {"field": "af_hi"}, "detail": {"field": "ring"}, "color": {"field": "level", "type": "ordinal", "scale": {"domain": [1, 2, 3, 4, 5, 6, 7], "range": ["#dbe8f4", "#c4daee", "#a6c8e4", "#85b4da", "#679fcd", "#4f88bf", "#3f70a8"]}, "legend": null}}},
        {"data": {"name": "lines"}, "transform": [{"filter": {"field": "model", "equal": "IMRPhenomXO4a"}}],
         "mark": {"type": "line", "clip": true, "color": "#5a5a5a", "strokeWidth": 0.7},
         "encoding": {"detail": {"field": "seg"}}}
      ]
    },
    {
      "width": 204, "height": 176, "title": "IMRPhenomXPHM",
      "encoding": {
        "x": {"field": "mf", "type": "quantitative", "scale": {"domain": [150, 300], "nice": false, "zero": false}, "axis": {"values": [160, 180, 200, 220, 240, 260, 280, 300], "labels": false, "title": null}},
        "y": {"field": "af", "type": "quantitative", "stack": null, "scale": {"domain": [0.2875, 0.9487], "nice": false, "zero": false}, "axis": {"values": [0.3, 0.4, 0.5, 0.6, 0.7, 0.8, 0.9], "labels": false, "title": null}}
      },
      "layer": [
        {"data": {"name": "contours"}, "transform": [{"filter": {"field": "model", "equal": "IMRPhenomXPHM"}}],
         "mark": {"type": "area", "orient": "vertical", "interpolate": "monotone", "clip": true, "stroke": "#3a3a3a", "strokeWidth": 0.6, "strokeOpacity": 0.75},
         "encoding": {"y2": {"field": "af_hi"}, "detail": {"field": "ring"}, "color": {"field": "level", "type": "ordinal", "scale": {"domain": [1, 2, 3, 4, 5, 6, 7], "range": ["#dbe8f4", "#c4daee", "#a6c8e4", "#85b4da", "#679fcd", "#4f88bf", "#3f70a8"]}, "legend": null}}},
        {"data": {"name": "lines"}, "transform": [{"filter": {"field": "model", "equal": "IMRPhenomXPHM"}}],
         "mark": {"type": "line", "clip": true, "color": "#5a5a5a", "strokeWidth": 0.7},
         "encoding": {"detail": {"field": "seg"}}}
      ]
    },
    {
      "width": 204, "height": 176, "title": "NRSur7dq4",
      "encoding": {
        "x": {"field": "mf", "type": "quantitative", "scale": {"domain": [150, 300], "nice": false, "zero": false}, "axis": {"values": [160, 180, 200, 220, 240, 260, 280, 300], "format": "d", "title": null}},
        "y": {"field": "af", "type": "quantitative", "stack": null, "scale": {"domain": [0.2875, 0.9487], "nice": false, "zero": false}, "axis": {"values": [0.3, 0.4, 0.5, 0.6, 0.7, 0.8, 0.9], "format": ".1f", "title": null}}
      },
      "layer": [
        {"data": {"name": "contours"}, "transform": [{"filter": {"field": "model", "equal": "NRSur7dq4"}}],
         "mark": {"type": "area", "orient": "vertical", "interpolate": "monotone", "clip": true, "stroke": "#3a3a3a", "strokeWidth": 0.6, "strokeOpacity": 0.75},
         "encoding": {"y2": {"field": "af_hi"}, "detail": {"field": "ring"}, "color": {"field": "level", "type": "ordinal", "scale": {"domain": [1, 2, 3, 4, 5, 6, 7], "range": ["#dbe8f4", "#c4daee", "#a6c8e4", "#85b4da", "#679fcd", "#4f88bf", "#3f70a8"]}, "legend": null}}},
        {"data": {"name": "lines"}, "transform": [{"filter": {"field": "model", "equal": "NRSur7dq4"}}],
         "mark": {"type": "line", "clip": true, "color": "#5a5a5a", "strokeWidth": 0.7},
         "encoding": {"detail": {"field": "seg"}}}
      ]
    },
    {
      "width": 204, "height": 176, "title": "SEOBNRv5PHM",
      "encoding": {
        "x": {"field": "mf", "type": "quantitative", "scale": {"domain": [150, 300], "nice": false, "zero": false}, "axis": {"values": [160, 180, 200, 220, 240, 260, 280, 300], "format": "d", "title": "Final Mass Mf (M_sun)", "titlePadding": 5}},
        "y": {"field": "af", "type": "quantitative", "stack": null, "scale": {"domain": [0.2875, 0.9487], "nice": false, "zero": false}, "axis": {"values": [0.3, 0.4, 0.5, 0.6, 0.7, 0.8, 0.9], "labels": false, "title": null}}
      },
      "layer": [
        {"data": {"name": "contours"}, "transform": [{"filter": {"field": "model", "equal": "SEOBNRv5PHM"}}],
         "mark": {"type": "area", "orient": "vertical", "interpolate": "monotone", "clip": true, "stroke": "#3a3a3a", "strokeWidth": 0.6, "strokeOpacity": 0.75},
         "encoding": {"y2": {"field": "af_hi"}, "detail": {"field": "ring"}, "color": {"field": "level", "type": "ordinal", "scale": {"domain": [1, 2, 3, 4, 5, 6, 7], "range": ["#dbe8f4", "#c4daee", "#a6c8e4", "#85b4da", "#679fcd", "#4f88bf", "#3f70a8"]}, "legend": null}}},
        {"data": {"name": "lines"}, "transform": [{"filter": {"field": "model", "equal": "SEOBNRv5PHM"}}],
         "mark": {"type": "line", "clip": true, "color": "#5a5a5a", "strokeWidth": 0.7},
         "encoding": {"detail": {"field": "seg"}}}
      ]
    }
  ]
}
